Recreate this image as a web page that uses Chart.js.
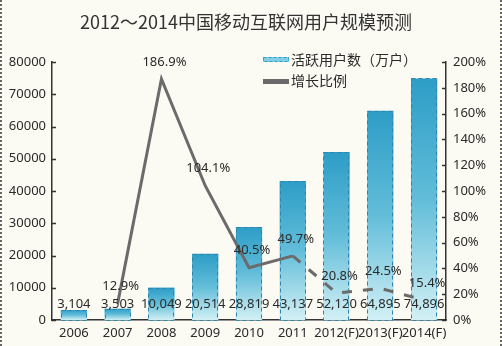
<!DOCTYPE html>
<html>
<head>
<meta charset="utf-8">
<script src="https://cdn.jsdelivr.net/npm/chart.js@4"></script>
<style>
  html, body { margin: 0; padding: 0; background: #fbfaf3; }
  #wrap {
    position: relative; width: 502px; height: 346px; box-sizing: border-box;
    border-left: 2px dotted #666; border-right: 2px dotted #666;
  }
  #c { position: absolute; left: -2px; top: 0; }
</style>
</head>
<body>
<div id="wrap"><canvas id="c" width="502" height="346"></canvas></div>
<script>
const years = ['2006', '2007', '2008', '2009', '2010', '2011', '2012(F)', '2013(F)', '2014(F)'];
const users = [3104, 3503, 10049, 20514, 28819, 43137, 52120, 64895, 74896];
const growth = [null, 12.9, 186.9, 104.1, 40.5, 49.7, 20.8, 24.5, 15.4];
const userTicks = [0, 10000, 20000, 30000, 40000, 50000, 60000, 70000, 80000];
const title = '2012～2014中国移动互联网用户规模预测';

const FONT = '"Noto Sans", "Noto Sans CJK SC", sans-serif';
const TXT = '#2a2a2a';

function barFill(ctx) {
  const chart = ctx.chart;
  if (!chart.chartArea || ctx.dataIndex == null) return '#3aa3c9';
  const y = chart.scales.y;
  const top = y.getPixelForValue(users[ctx.dataIndex]);
  const g = chart.ctx.createLinearGradient(0, top, 0, y.bottom);
  g.addColorStop(0, '#2d9dc7');
  g.addColorStop(0.5, '#62bdd9');
  g.addColorStop(1, '#d2f0f5');
  return g;
}

// title, legend, dashed bar outlines, inward ticks, value labels
const decor = {
  id: 'decor',
  afterDatasetDraw(chart, args) {
    if (args.meta.type !== 'bar') return;
    const c = chart.ctx;
    c.save();
    c.strokeStyle = '#2f86ad';
    c.lineWidth = 1;
    c.setLineDash([4, 3]);
    args.meta.data.forEach(b => {
      const w = b.width;
      c.strokeRect(Math.round(b.x - w / 2) + 0.5, Math.round(b.y) + 0.5, Math.round(w) - 1, Math.round(b.base - b.y));
    });
    c.restore();
  },
  afterDraw(chart) {
    const c = chart.ctx;
    const { left, right } = chart.chartArea;
    const y = chart.scales.y, y2 = chart.scales.y2, x = chart.scales.x;
    c.save();
    // title
    c.fillStyle = '#333';
    c.font = '18px "Noto Sans CJK SC", sans-serif';
    c.textAlign = 'center';
    c.textBaseline = 'middle';
    c.fillText(title, 246, 22);

    // inward ticks
    c.strokeStyle = '#333';
    c.lineWidth = 1.5;
    c.beginPath();
    userTicks.forEach(v => {
      const py = Math.round(y.getPixelForValue(v)) + 0.5;
      c.moveTo(left, py); c.lineTo(left + 4, py);
    });
    for (let v = 0; v <= 200; v += 20) {
      const py = Math.round(y2.getPixelForValue(v)) + 0.5;
      c.moveTo(right, py); c.lineTo(right - 4, py);
    }
    c.stroke();

    // legend
    c.setLineDash([3, 2]);
    c.fillStyle = '#7fd0e6';
    c.fillRect(263, 57, 26, 5);
    c.strokeStyle = '#3a9bc4';
    c.lineWidth = 1;
    c.strokeRect(263.5, 57.5, 25, 4);
    c.setLineDash([]);
    c.fillStyle = '#6a6a6a';
    c.fillRect(263, 79, 26, 5);
    c.fillStyle = TXT;
    c.font = '14px "Noto Sans CJK SC", sans-serif';
    c.textAlign = 'left';
    c.fillText('活跃用户数（万户）', 291, 60);
    c.fillText('增长比例', 291, 81);

    // bar values
    c.font = '13px ' + FONT;
    c.textAlign = 'center';
    users.forEach((v, i) => {
      c.fillText(v.toLocaleString('en-US'), x.getPixelForValue(i), 304);
    });
    // growth values
    growth.forEach((v, i) => {
      if (v == null) return;
      c.fillText(v.toFixed(1) + '%', x.getPixelForValue(i) + 3, y2.getPixelForValue(v) - 17);
    });
    c.restore();
  }
};

new Chart(document.getElementById('c'), {
  data: {
    labels: years,
    datasets: [{
      type: 'line',
      label: '增长比例',
      data: growth,
      yAxisID: 'y2',
      order: 0,
      borderColor: '#6b6b6b',
      borderWidth: 3,
      pointRadius: 0,
      tension: 0,
      segment: {
        borderDash: ctx => ctx.p0DataIndex >= 5 ? [10, 11] : undefined
      }
    }, {
      type: 'bar',
      label: '活跃用户数（万户）',
      data: users,
      yAxisID: 'y',
      order: 1,
      backgroundColor: barFill,
      borderWidth: 0,
      barPercentage: 0.6,
      categoryPercentage: 1
    }]
  },
  plugins: [decor],
  options: {
    responsive: false,
    animation: false,
    layout: { padding: { top: 62, right: 0, left: 0, bottom: 0 } },
    plugins: { legend: { display: false }, tooltip: { enabled: false } },
    scales: {
      x: {
        grid: { display: false, drawTicks: false },
        border: { display: true, color: '#333', width: 1.5 },
        ticks: { color: TXT, font: { family: FONT, size: 13 }, padding: 5, maxRotation: 0, autoSkip: false },
        afterFit: s => { s.height = 26; }
      },
      y: {
        position: 'left',
        min: 0, max: 80000,
        afterBuildTicks: s => { s.ticks = userTicks.map(v => ({ value: v })); },
        grid: { display: false, drawTicks: false },
        border: { display: true, color: '#333', width: 1.5 },
        ticks: { color: TXT, font: { family: FONT, size: 13 }, padding: 6, callback: v => String(v) },
        afterFit: s => { s.width = 52; }
      },
      y2: {
        position: 'right',
        min: 0, max: 200,
        grid: { display: false, drawTicks: false },
        border: { display: true, color: '#333', width: 1.5 },
        ticks: { stepSize: 20, color: TXT, font: { family: FONT, size: 13 }, padding: 7, callback: v => v + '%' },
        afterFit: s => { s.width = 56; }
      }
    }
  }
});
</script>
</body>
</html>
